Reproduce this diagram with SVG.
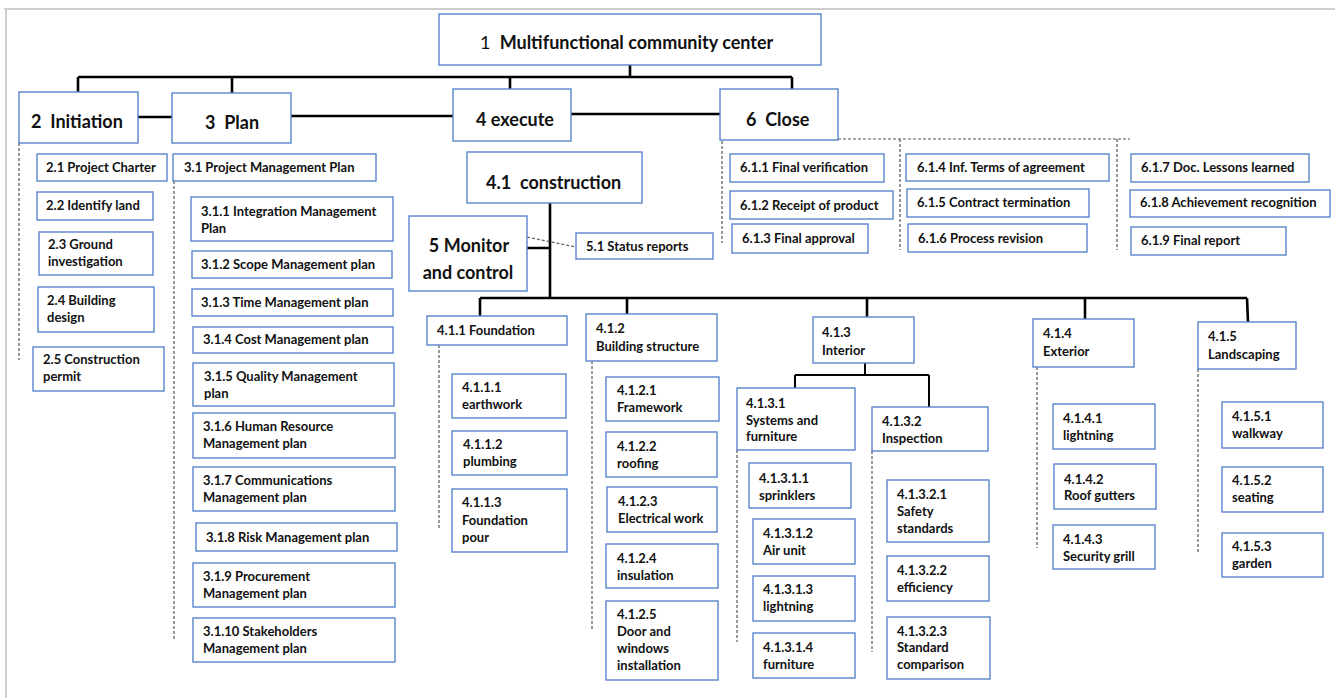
<svg xmlns="http://www.w3.org/2000/svg" width="1335" height="698" viewBox="0 0 1335 698">
  <style>
    .box { fill: #ffffff; stroke: #5b84cf; stroke-width: 1.4; }
    text { font-family: Lato, "Open Sans", "Liberation Sans", sans-serif; font-weight: bold; fill: #111111; white-space: pre; }
    .t { font-size: 13px; }
    .h { font-size: 18px; }
    .r { font-size: 18px; }
    .norm { font-weight: normal; }
    .solid { stroke: #000000; stroke-width: 2.6; fill: none; }
    .thin { stroke: #000000; stroke-width: 2; fill: none; }
    .dash { stroke: #555555; stroke-width: 1.2; stroke-dasharray: 3 2; fill: none; }
    .frame { stroke: #cfcfcf; stroke-width: 2; fill: none; }
  </style>

  <!-- page frame -->
  <path class="frame" d="M4 9 H1335 M6 9 V698"/>

  <!-- connectors -->
  <g id="connectors">
    <!-- top level tree -->
    <path class="solid" d="M630 64 V77 M78 77 H792 M78 77 V92 M232 77 V93 M510 77 V89 M792 77 V89"/>
    <path class="solid" d="M138 117 H172 M291 116 H453 M571 114 H720"/>
    <!-- construction tree -->
    <path class="solid" d="M550 203 V298 M524 248 H550 M480 298 H1247 M480 298 V316 M627 298 V314 M867 298 V317 M1085 298 V319 M1247 298 L1248 322"/>
    <path class="thin" d="M865 363 V375 M795 375 H929 M795 375 V388 M929 375 V407"/>
    <!-- dashed containment lines -->
    <path class="dash" d="M19 143 V360"/>
    <path class="dash" d="M174 181 V639"/>
    <path class="dash" d="M527 237 L576 247"/>
    <path class="dash" d="M439 345 V529"/>
    <path class="dash" d="M592 361 V630"/>
    <path class="dash" d="M737 450 V642"/>
    <path class="dash" d="M872 451 V652"/>
    <path class="dash" d="M1037 367 V548"/>
    <path class="dash" d="M1198 369 V553"/>
    <path class="dash" d="M838 139 H1130 M722 141 V243 M900 139 V250 M1117 139 V250"/>
  </g>

  <!-- level 1 -->
  <g id="n1">
    <rect class="box" x="439" y="14" width="382" height="51"/>
    <text class="r" x="480" y="49"><tspan class="norm">1  </tspan>Multifunctional community center</text>
  </g>

  <!-- level 2 -->
  <g id="n2">
    <rect class="box" x="19" y="92" width="119" height="51"/>
    <text class="h" x="31" y="128">2  Initiation</text>
  </g>
  <g id="n3">
    <rect class="box" x="172" y="93" width="119" height="50"/>
    <text class="h" x="205" y="129">3  Plan</text>
  </g>
  <g id="n4">
    <rect class="box" x="453" y="89" width="118" height="52"/>
    <text class="h" x="476" y="126">4 execute</text>
  </g>
  <g id="n6">
    <rect class="box" x="720" y="89" width="118" height="51"/>
    <text class="h" x="746" y="126">6  Close</text>
  </g>

  <!-- initiation -->
  <g id="n2-1"><rect class="box" x="37" y="154" width="130" height="27"/><text class="t" x="46" y="172">2.1 Project Charter</text></g>
  <g id="n2-2"><rect class="box" x="37" y="192" width="116" height="28"/><text class="t" x="46" y="210">2.2 Identify land</text></g>
  <g id="n2-3"><rect class="box" x="39" y="232" width="114" height="43"/><text class="t" x="48" y="249">2.3 Ground<tspan x="48" dy="17">investigation</tspan></text></g>
  <g id="n2-4"><rect class="box" x="38" y="287" width="116" height="45"/><text class="t" x="47" y="305">2.4 Building<tspan x="47" dy="17">design</tspan></text></g>
  <g id="n2-5"><rect class="box" x="33" y="347" width="131" height="44"/><text class="t" x="43" y="364">2.5 Construction<tspan x="43" dy="17">permit</tspan></text></g>

  <!-- plan -->
  <g id="n3-1"><rect class="box" x="173" y="154" width="203" height="27"/><text class="t" x="184" y="172">3.1 Project Management Plan</text></g>
  <g id="n3-1-1"><rect class="box" x="191" y="197" width="202" height="44"/><text class="t" x="201" y="216">3.1.1 Integration Management<tspan x="201" dy="17">Plan</tspan></text></g>
  <g id="n3-1-2"><rect class="box" x="192" y="251" width="200" height="27"/><text class="t" x="201" y="269">3.1.2 Scope Management plan</text></g>
  <g id="n3-1-3"><rect class="box" x="192" y="289" width="201" height="27"/><text class="t" x="201" y="307">3.1.3 Time Management plan</text></g>
  <g id="n3-1-4"><rect class="box" x="193" y="327" width="200" height="26"/><text class="t" x="203" y="344">3.1.4 Cost Management plan</text></g>
  <g id="n3-1-5"><rect class="box" x="193" y="363" width="201" height="43"/><text class="t" x="204" y="381">3.1.5 Quality Management<tspan x="204" dy="17">plan</tspan></text></g>
  <g id="n3-1-6"><rect class="box" x="193" y="413" width="202" height="45"/><text class="t" x="203" y="431">3.1.6 Human Resource<tspan x="203" dy="17">Management plan</tspan></text></g>
  <g id="n3-1-7"><rect class="box" x="193" y="467" width="202" height="44"/><text class="t" x="203" y="485">3.1.7 Communications<tspan x="203" dy="17">Management plan</tspan></text></g>
  <g id="n3-1-8"><rect class="box" x="196" y="523" width="201" height="28"/><text class="t" x="206" y="542">3.1.8 Risk Management plan</text></g>
  <g id="n3-1-9"><rect class="box" x="193" y="563" width="202" height="44"/><text class="t" x="203" y="581">3.1.9 Procurement<tspan x="203" dy="17">Management plan</tspan></text></g>
  <g id="n3-1-10"><rect class="box" x="193" y="618" width="202" height="44"/><text class="t" x="203" y="636">3.1.10 Stakeholders<tspan x="203" dy="17">Management plan</tspan></text></g>

  <!-- execute -->
  <g id="n4-1">
    <rect class="box" x="467" y="152" width="175" height="51"/>
    <text class="h" x="486" y="189">4.1  construction</text>
  </g>
  <g id="n5">
    <rect class="box" x="409" y="216" width="118" height="75"/>
    <text class="h" x="469" y="252" text-anchor="middle">5 Monitor<tspan x="468" dy="27">and control</tspan></text>
  </g>
  <g id="n5-1"><rect class="box" x="576" y="233" width="137" height="26"/><text class="t" x="586" y="251">5.1 Status reports</text></g>

  <!-- 4.1.1 foundation -->
  <g id="n4-1-1"><rect class="box" x="427" y="316" width="140" height="29"/><text class="t" x="437" y="335">4.1.1 Foundation</text></g>
  <g id="n4-1-1-1"><rect class="box" x="452" y="374" width="114" height="44"/><text class="t" x="462" y="392">4.1.1.1<tspan x="462" dy="17">earthwork</tspan></text></g>
  <g id="n4-1-1-2"><rect class="box" x="452" y="431" width="115" height="44"/><text class="t" x="463" y="449">4.1.1.2<tspan x="463" dy="17">plumbing</tspan></text></g>
  <g id="n4-1-1-3"><rect class="box" x="452" y="489" width="115" height="63"/><text class="t" x="462" y="507">4.1.1.3<tspan x="462" dy="17.5">Foundation</tspan><tspan x="462" dy="17.5">pour</tspan></text></g>

  <!-- 4.1.2 building structure -->
  <g id="n4-1-2"><rect class="box" x="586" y="314" width="131" height="47"/><text class="t" x="596" y="333">4.1.2<tspan x="596" dy="17.5">Building structure</tspan></text></g>
  <g id="n4-1-2-1"><rect class="box" x="606" y="377" width="113" height="44"/><text class="t" x="617" y="395">4.1.2.1<tspan x="617" dy="17">Framework</tspan></text></g>
  <g id="n4-1-2-2"><rect class="box" x="606" y="432" width="111" height="45"/><text class="t" x="617" y="451">4.1.2.2<tspan x="617" dy="16.5">roofing</tspan></text></g>
  <g id="n4-1-2-3"><rect class="box" x="607" y="487" width="110" height="45"/><text class="t" x="618" y="506">4.1.2.3<tspan x="618" dy="17">Electrical work</tspan></text></g>
  <g id="n4-1-2-4"><rect class="box" x="606" y="544" width="112" height="44"/><text class="t" x="617" y="563">4.1.2.4<tspan x="617" dy="16.5">insulation</tspan></text></g>
  <g id="n4-1-2-5"><rect class="box" x="606" y="601" width="112" height="79"/><text class="t" x="617" y="619">4.1.2.5<tspan x="617" dy="17.3">Door and</tspan><tspan x="617" dy="17">windows</tspan><tspan x="617" dy="17">installation</tspan></text></g>

  <!-- 4.1.3 interior -->
  <g id="n4-1-3"><rect class="box" x="813" y="317" width="101" height="46"/><text class="t" x="822" y="337">4.1.3<tspan x="822" dy="17.5">Interior</tspan></text></g>
  <g id="n4-1-3-1"><rect class="box" x="737" y="388" width="118" height="62"/><text class="t" x="746" y="408">4.1.3.1<tspan x="746" dy="16.5">Systems and</tspan><tspan x="746" dy="16.5">furniture</tspan></text></g>
  <g id="n4-1-3-1-1"><rect class="box" x="749" y="463" width="102" height="45"/><text class="t" x="759" y="483">4.1.3.1.1<tspan x="759" dy="16.5">sprinklers</tspan></text></g>
  <g id="n4-1-3-1-2"><rect class="box" x="753" y="519" width="102" height="45"/><text class="t" x="763" y="538">4.1.3.1.2<tspan x="763" dy="17">Air unit</tspan></text></g>
  <g id="n4-1-3-1-3"><rect class="box" x="753" y="576" width="102" height="45"/><text class="t" x="763" y="594">4.1.3.1.3<tspan x="763" dy="17">lightning</tspan></text></g>
  <g id="n4-1-3-1-4"><rect class="box" x="753" y="633" width="102" height="45"/><text class="t" x="763" y="652">4.1.3.1.4<tspan x="763" dy="16.5">furniture</tspan></text></g>
  <g id="n4-1-3-2"><rect class="box" x="872" y="407" width="116" height="44"/><text class="t" x="882" y="426">4.1.3.2<tspan x="882" dy="16.5">Inspection</tspan></text></g>
  <g id="n4-1-3-2-1"><rect class="box" x="887" y="480" width="102" height="62"/><text class="t" x="897" y="499">4.1.3.2.1<tspan x="897" dy="17">Safety</tspan><tspan x="897" dy="17">standards</tspan></text></g>
  <g id="n4-1-3-2-2"><rect class="box" x="887" y="556" width="102" height="45"/><text class="t" x="897" y="575">4.1.3.2.2<tspan x="897" dy="17">efficiency</tspan></text></g>
  <g id="n4-1-3-2-3"><rect class="box" x="887" y="617" width="103" height="62"/><text class="t" x="897" y="636">4.1.3.2.3<tspan x="897" dy="16.3">Standard</tspan><tspan x="897" dy="16.3">comparison</tspan></text></g>

  <!-- 4.1.4 exterior -->
  <g id="n4-1-4"><rect class="box" x="1033" y="319" width="101" height="48"/><text class="t" x="1043" y="338">4.1.4<tspan x="1043" dy="17.5">Exterior</tspan></text></g>
  <g id="n4-1-4-1"><rect class="box" x="1053" y="404" width="102" height="45"/><text class="t" x="1063" y="423">4.1.4.1<tspan x="1063" dy="16.5">lightning</tspan></text></g>
  <g id="n4-1-4-2"><rect class="box" x="1054" y="464" width="102" height="45"/><text class="t" x="1064" y="484">4.1.4.2<tspan x="1064" dy="16">Roof gutters</tspan></text></g>
  <g id="n4-1-4-3"><rect class="box" x="1053" y="525" width="102" height="44"/><text class="t" x="1063" y="544">4.1.4.3<tspan x="1063" dy="17">Security grill</tspan></text></g>

  <!-- 4.1.5 landscaping -->
  <g id="n4-1-5"><rect class="box" x="1198" y="322" width="98" height="47"/><text class="t" x="1208" y="341">4.1.5<tspan x="1208" dy="17.5">Landscaping</tspan></text></g>
  <g id="n4-1-5-1"><rect class="box" x="1222" y="402" width="101" height="46"/><text class="t" x="1232" y="421">4.1.5.1<tspan x="1232" dy="17">walkway</tspan></text></g>
  <g id="n4-1-5-2"><rect class="box" x="1222" y="467" width="101" height="45"/><text class="t" x="1232" y="485">4.1.5.2<tspan x="1232" dy="17">seating</tspan></text></g>
  <g id="n4-1-5-3"><rect class="box" x="1222" y="533" width="101" height="44"/><text class="t" x="1232" y="551">4.1.5.3<tspan x="1232" dy="17">garden</tspan></text></g>

  <!-- close -->
  <g id="n6-1-1"><rect class="box" x="730" y="154" width="154" height="28"/><text class="t" x="740" y="172">6.1.1 Final verification</text></g>
  <g id="n6-1-2"><rect class="box" x="730" y="191" width="163" height="28"/><text class="t" x="740" y="210">6.1.2 Receipt of product</text></g>
  <g id="n6-1-3"><rect class="box" x="732" y="224" width="136" height="29"/><text class="t" x="742" y="243">6.1.3 Final approval</text></g>
  <g id="n6-1-4"><rect class="box" x="906" y="154" width="203" height="27"/><text class="t" x="917" y="172">6.1.4 Inf. Terms of agreement</text></g>
  <g id="n6-1-5"><rect class="box" x="907" y="189" width="182" height="28"/><text class="t" x="917" y="207">6.1.5 Contract termination</text></g>
  <g id="n6-1-6"><rect class="box" x="908" y="224" width="179" height="28"/><text class="t" x="918" y="243">6.1.6 Process revision</text></g>
  <g id="n6-1-7"><rect class="box" x="1131" y="154" width="178" height="28"/><text class="t" x="1141" y="172">6.1.7 Doc. Lessons learned</text></g>
  <g id="n6-1-8"><rect class="box" x="1130" y="190" width="200" height="27"/><text class="t" x="1140" y="207">6.1.8 Achievement recognition</text></g>
  <g id="n6-1-9"><rect class="box" x="1131" y="227" width="155" height="28"/><text class="t" x="1141" y="245">6.1.9 Final report</text></g>
</svg>
